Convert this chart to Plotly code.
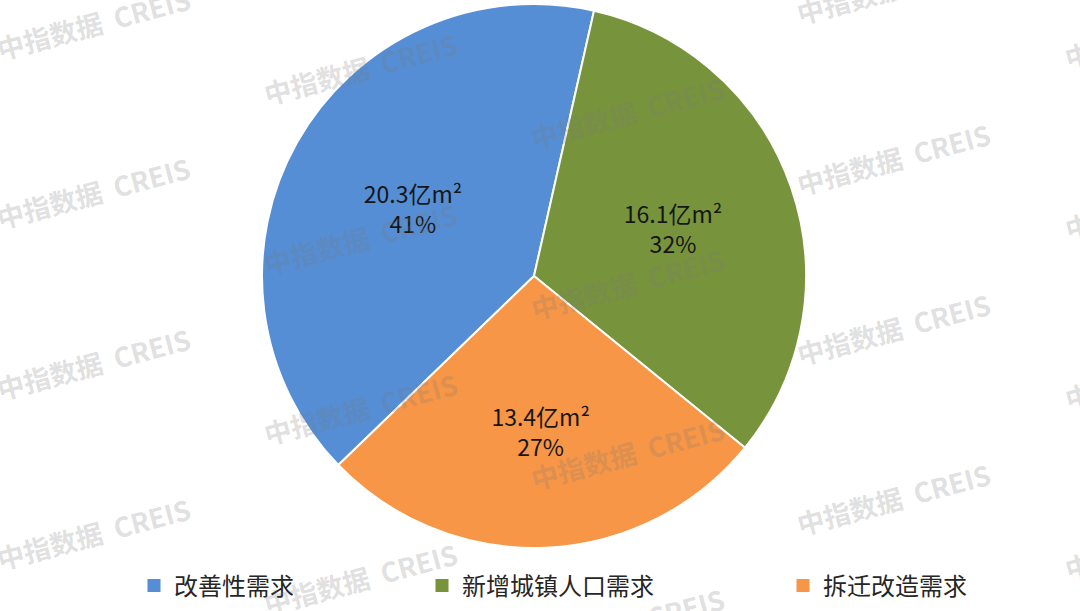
import plotly.graph_objects as go

categories = ["改善性需求", "新增城镇人口需求", "拆迁改造需求"]
values = [20.3, 16.1, 13.4]
unit = "亿m²"
colors = ["#558ED5", "#77933C", "#F79646"]
watermark = "中指数据\u00a0\u00a0CREIS"

W, H = 1080, 611
FONT = "Noto Sans CJK SC"

fig = go.Figure()
fig.add_trace(
    go.Pie(
        labels=categories,
        values=values,
        sort=False,
        direction="clockwise",
        rotation=226,
        marker=dict(colors=colors, line=dict(color="white", width=2)),
        texttemplate="%{value:.1f}" + unit + "<br>%{percent:.0%}",
        textposition="inside",
        insidetextorientation="horizontal",
        textfont=dict(family=FONT, size=23, color="#161616"),
        hoverinfo="label+value+percent",
        showlegend=False,
        domain=dict(x=[262 / W, 806 / W], y=[63 / H, 607 / H]),
    )
)

# legend entries (one legend per category so each sits where the reference puts it)
legend_left_px = [134, 422, 783]
legend_names = ["legend", "legend2", "legend3"]
legend_layout = {}
for name, color, lname, lx in zip(categories, colors, legend_names, legend_left_px):
    fig.add_trace(
        go.Scatter(
            x=[None],
            y=[None],
            mode="markers",
            name=name,
            marker=dict(symbol="square", size=13, color=color),
            legend=lname,
            showlegend=True,
            hoverinfo="skip",
        )
    )
    legend_layout[lname] = dict(
        x=lx / W,
        xanchor="left",
        y=1 - 586 / H,
        yanchor="middle",
        orientation="h",
        font=dict(family=FONT, size=24, color="#262626"),
        bgcolor="rgba(0,0,0,0)",
    )

# watermark grid
annotations = []
col_x0, col_dx, col_dy = 93, 267, 45
row_y0, row_dy = 23, 170
for c in range(5):
    for r in range(-1, 5):
        px = col_x0 + c * col_dx
        py = row_y0 + c * col_dy + r * row_dy
        if -40 < py < H + 40:
            annotations.append(
                dict(
                    text=watermark,
                    x=px / W,
                    y=1 - py / H,
                    xref="paper",
                    yref="paper",
                    showarrow=False,
                    textangle=-15,
                    font=dict(family=FONT, size=27, color="rgba(120,120,120,0.24)", weight="bold"),
                    xanchor="center",
                    yanchor="middle",
                )
            )

fig.update_layout(
    width=W,
    height=H,
    margin=dict(l=0, r=0, t=0, b=0, autoexpand=False),
    paper_bgcolor="white",
    plot_bgcolor="white",
    xaxis=dict(visible=False),
    yaxis=dict(visible=False),
    annotations=annotations,
    **legend_layout,
)

fig.write_html(
    "out.html",
    config={"displayModeBar": False},
    post_script="document.body.style.margin='0';",
)
